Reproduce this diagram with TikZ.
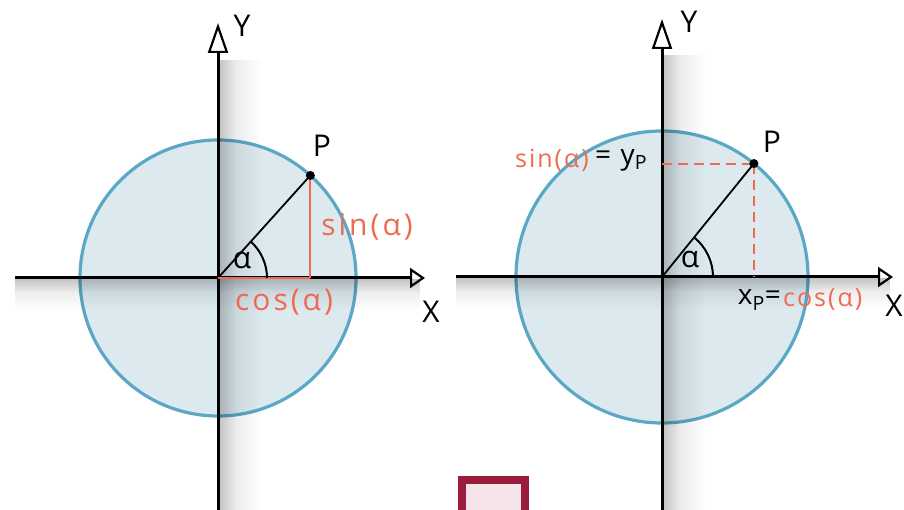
\documentclass[tikz,border=0pt]{standalone}
\usepackage{fontspec}
\setmainfont{Open Sans}
\usetikzlibrary{arrows.meta,positioning,calc,fadings}
\definecolor{ucblue}{HTML}{5BA8C6}
\definecolor{ucfill}{HTML}{DCEAF0}
\definecolor{ucred}{HTML}{EF6A50}
\definecolor{ucwine}{HTML}{9A1C3D}
\definecolor{ucpink}{HTML}{F4E4E9}
\tikzfading[name=fadeeast, left color=transparent!0, right color=transparent!100]
\tikzfading[name=fadesouth, top color=transparent!0, bottom color=transparent!100]

\begin{document}
\begin{tikzpicture}[x=1pt, y=1pt,
    xaxis/.style={line width=3pt, -{Triangle[open, length=15pt, width=20pt, line width=2.2pt]}},
    yaxis/.style={line width=3pt, -{Triangle[open, length=30pt, width=20pt, line width=2.2pt]}},
    unitcircle/.style={draw=ucblue, fill=ucfill, line width=3.2pt},
    shadowv/.style={black, opacity=0.12, path fading=fadeeast},
    shadowh/.style={black, opacity=0.12, path fading=fadesouth},
    radius line/.style={line width=1.8pt},
    redline/.style={draw=ucred, line width=2.2pt},
    reddash/.style={draw=ucred, line width=2pt, dash pattern=on 10pt off 6pt},
    anglearc/.style={line width=2pt},
    lbl/.style={font=\fontsize{30}{34}\selectfont\addfontfeature{LetterSpace=10}, inner sep=1pt},
    small lbl/.style={font=\fontsize{25}{30}\selectfont\addfontfeature{LetterSpace=8}, inner sep=1pt},
    mid lbl/.style={font=\fontsize{28}{32}\selectfont\addfontfeature{LetterSpace=8}, inner sep=1pt},
    redlbl/.style={lbl, text=ucred},
    small redlbl/.style={small lbl, text=ucred},
    dot/.style={circle, fill=black, inner sep=0pt, minimum size=9pt}
]
    \useasboundingbox (0,0) rectangle (904,510);
    \fill[white] (0,0) rectangle (904,510);

    % left circle
    \coordinate (o1) at (218,232);
    \coordinate (p1) at ($(o1)+(48:138)$);
    \coordinate (f1) at (p1 |- o1);
    \coordinate (xa1) at (15,232);
    \coordinate (xb1) at (425,232);
    \coordinate (ya1) at (218,0);
    \coordinate (yb1) at (218,487);

    \draw[unitcircle] (o1) circle[radius=138];
    \fill[shadowv] (219,0) rectangle (236,450);
    \fill[shadowv] (219,0) rectangle (262,450);
    \fill[shadowh] (15,231) rectangle (420,218);
    \fill[shadowh] (15,231) rectangle (420,200);
    \draw[xaxis] (xa1) -- (xb1);
    \draw[yaxis] (ya1) -- (yb1);
    \draw[radius line] (o1) -- (p1);
    \draw[redline] (o1) -- (f1);
    \draw[redline] (p1) -- (f1);
    \draw[anglearc] ($(o1)+(49,0)$) arc[start angle=0, end angle=48, radius=49];
    \node[dot] (pt1) at (p1) {};

    \node[lbl] (alpha1) at (242,250) {α};
    \node[lbl] (P1) at (322,364) {P};
    \node[redlbl] (sin1) at (367,283) {sin(α)};
    \node[redlbl] (cos1) at (284,208) {cos(α)};
    \node[lbl] (X1) at (431,198) {X};
    \node[lbl] (Y1) at (242,484) {Y};

    % right circle
    \coordinate (o2) at (662,233);
    \coordinate (p2) at ($(o2)+(51:146)$);
    \coordinate (fx2) at (p2 |- o2);
    \coordinate (fy2) at (p2 -| o2);
    \coordinate (xa2) at (456,233);
    \coordinate (xb2) at (893,233);
    \coordinate (ya2) at (662,0);
    \coordinate (yb2) at (662,491);

    \draw[unitcircle] (o2) circle[radius=146];
    \fill[shadowv] (663,0) rectangle (680,455);
    \fill[shadowv] (663,0) rectangle (706,455);
    \fill[shadowh] (456,232) rectangle (890,219);
    \fill[shadowh] (456,232) rectangle (890,201);
    \draw[xaxis] (xa2) -- (xb2);
    \draw[yaxis] (ya2) -- (yb2);
    \draw[radius line] (o2) -- (p2);
    \draw[reddash] (fy2) -- (p2);
    \draw[reddash] (p2) -- (fx2);
    \draw[anglearc] ($(o2)+(51,0)$) arc[start angle=0, end angle=51, radius=51];
    \node[dot] (pt2) at (p2) {};

    \node[lbl] (alpha2) at (690,251) {α};
    \node[lbl] (P2) at (772,368) {P};
    \node[small redlbl, anchor=east] (sin2) at (590,350) {sin(α)};
    \node[mid lbl, anchor=west] (yp2) at ([xshift=4pt]sin2.east) {= y\textsubscript{P}};
    \node[small redlbl, anchor=west] (cos2) at (782,210) {cos(α)};
    \node[mid lbl, anchor=east] (xp2) at (cos2.west) {x\textsubscript{P}=};
    \node[lbl, anchor=east] (X2) at (904,204) {X};
    \node[lbl] (Y2) at (689,488) {Y};

    % box at the bottom edge
    \draw[draw=ucwine, fill=ucpink, line width=8pt] (462,0) -- (462,30) -- (525,30) -- (525,0);
\end{tikzpicture}
\end{document}
